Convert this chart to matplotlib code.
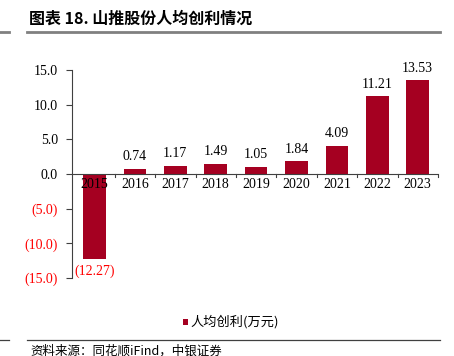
import matplotlib
matplotlib.use("Agg")
import matplotlib.pyplot as plt
from matplotlib.lines import Line2D
from matplotlib.patches import Rectangle

years = ["2015", "2016", "2017", "2018", "2019", "2020", "2021", "2022", "2023"]
values = [-12.27, 0.74, 1.17, 1.49, 1.05, 1.84, 4.09, 11.21, 13.53]
yticks = [-15, -10, -5, 0, 5, 10, 15]
series_name = "人均创利(万元)"
title = "图表 18. 山推股份人均创利情况"
source = "资料来源：同花顺iFind，中银证券"

cjk = ["Noto Sans CJK SC", "DejaVu Sans"]
serif = ["Liberation Serif", "DejaVu Serif"]
bar_color = "#A50021"
neg_color = "#FF0000"

fig = plt.figure(figsize=(4.54, 3.56), dpi=100)
ax = fig.add_axes([0.1586, 0.219, 0.806, 0.584])

x = list(range(len(years)))
ax.bar(x, values, width=0.56, color=bar_color, zorder=2)
ax.set_xlim(-0.557, len(years) - 0.5)
ax.set_ylim(-15, 15)

for xi, v in zip(x, values):
    if v >= 0:
        ax.annotate(f"{v:.2f}", (xi, v), xytext=(0, 4), textcoords="offset points",
                    ha="center", va="bottom", fontsize=10, family=serif, color="black")
    else:
        ax.annotate(f"({abs(v):.2f})", (xi, v), xytext=(0, -4), textcoords="offset points",
                    ha="center", va="top", fontsize=10, family=serif, color=neg_color)

ax.set_yticks(yticks)
labels = []
for t in yticks:
    labels.append(f"({abs(t):.1f})" if t < 0 else f"{t:.1f}")
ax.set_yticklabels(labels, family=serif, fontsize=10)
for lab, t in zip(ax.get_yticklabels(), yticks):
    lab.set_color(neg_color if t < 0 else "black")

for s in ["top", "right", "bottom"]:
    ax.spines[s].set_visible(False)
ax.spines["left"].set_color("#404040")
ax.spines["left"].set_linewidth(0.8)
ax.axhline(0, color="#404040", linewidth=0.8, zorder=3)

ax.set_xticks([])
ax.tick_params(axis="y", direction="out", length=4, width=0.8, color="#404040", pad=6)
for xi, yr in zip(x, years):
    ax.text(xi, -0.6, yr, ha="center", va="top", fontsize=10, family=serif, zorder=4)
for b in [i + 0.5 for i in range(0, len(years))]:
    ax.plot([b, b], [0, -0.45], color="#404040", linewidth=0.8, clip_on=False, zorder=3)

# legend
fig.patches.append(Rectangle((0.403, 0.088), 0.012, 0.016, transform=fig.transFigure,
                             facecolor=bar_color, edgecolor="none"))
fig.text(0.42, 0.096, series_name, ha="left", va="center", fontsize=9.5, family=cjk)

# title and rules
fig.text(0.064, 0.948, title, ha="left", va="center", fontsize=11.5, fontweight="bold", family=cjk)
fig.add_artist(Line2D([0.06, 0.97], [0.91, 0.91], color="#808080", linewidth=2, transform=fig.transFigure))
fig.add_artist(Line2D([0.0, 0.02], [0.91, 0.91], color="#808080", linewidth=2, transform=fig.transFigure))
fig.add_artist(Line2D([0.06, 0.97], [0.045, 0.045], color="#404040", linewidth=0.9, transform=fig.transFigure))
fig.add_artist(Line2D([0.0, 0.02], [0.045, 0.045], color="#404040", linewidth=0.9, transform=fig.transFigure))
fig.text(0.066, -0.004, source, ha="left", va="bottom", fontsize=9, family=cjk, style="italic")

fig.savefig("out.png", dpi=100)
